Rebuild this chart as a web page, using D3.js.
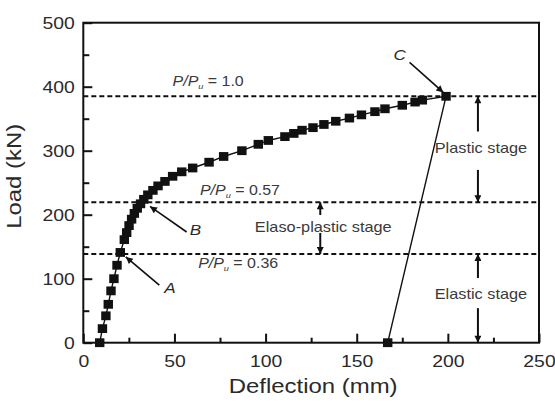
<!DOCTYPE html>
<meta charset="utf-8">
<head>
<style>
body {
  margin: 0;
  background: #fff;
  font-family: "Liberation Sans", Arial, sans-serif;
}
.tick line {
  stroke: #111;
  stroke-width: 2px;
}
.tick text {
  fill: #2a2a2a;
  font-size: 17px;
}
.frame {
  fill: none;
  stroke: #111;
  stroke-width: 2px;
}
.level {
  stroke: #111;
  stroke-width: 2px;
  stroke-dasharray: 5,3;
}
.curve {
  fill: none;
  stroke: #111;
  stroke-width: 1.4px;
}
.arrow {
  stroke: #111;
  stroke-width: 1.6px;
}
.stage {
  stroke: #111;
  stroke-width: 2px;
}
</style>
<script src="https://d3js.org/d3.v7.min.js"></script>
</head>
<body>
<div id="chart"></div>
<script>

// loading curve (deflection in mm, load in kN)
var deflection = [9, 10.5, 12.4, 13.7, 15.2, 16.8, 18.5, 20.3, 22.5, 23.8, 25.1, 26.5, 28, 29.6, 31.4,
  33.2, 35.4, 38.2, 41, 44.8, 49, 54, 60, 69, 77, 87, 96, 101.5, 110.6, 115.5, 120, 126, 132,
  138.5, 146, 152.6, 160, 165.5, 175, 182, 186, 199];
var load = [0, 22, 42, 60, 81, 100, 121, 141, 161, 172, 183, 193, 202, 210, 217,
  224, 231, 238, 245, 252, 260, 267, 273, 282, 291, 300, 310, 316, 322, 327, 332, 336, 341,
  346, 351, 356, 361, 365.5, 371, 376, 379, 385];

// unloading line from C
var unloadDefl = [199, 167];
var unloadLoad = [385, 0];

var peakLoad = 385;
var levelRatios = [1.0, 0.57, 0.36];
var levelText = ["1.0", "0.57", "0.36"];

var xTicks = [0, 50, 100, 150, 200, 250];
var xMinor = [25, 75, 125, 175, 225];
var yTicks = [0, 100, 200, 300, 400, 500];
var yMinor = [50, 150, 250, 350, 450];

var stretch = 1.14;

var margin = {top: 22.7, right: 16, bottom: 60.3, left: 83.3},
  width = 555 - margin.left - margin.right,
  height = 403 - margin.top - margin.bottom;

var svg = d3.select("#chart").append("svg")
  .attr("width", 555)
  .attr("height", 403)
  .append("g")
  .attr("transform", "translate(" + margin.left + "," + margin.top + ")");

var x = d3.scaleLinear().domain([0, 250]).range([0, width]);
var y = d3.scaleLinear().domain([0, 500]).range([height, 0]);

var defs = svg.append("defs");
defs.append("marker")
  .attr("id", "head")
  .attr("markerUnits", "userSpaceOnUse")
  .attr("viewBox", "0 0 10 10")
  .attr("refX", 10).attr("refY", 5)
  .attr("markerWidth", 9).attr("markerHeight", 7)
  .attr("orient", "auto")
  .append("path")
  .attr("d", "M0,0L10,5L0,10z")
  .attr("fill", "#111");

////Axes (ticks pointing inward)
var gx = svg.append("g")
  .attr("transform", "translate(0," + height + ")")
  .call(d3.axisBottom(x).tickValues(xTicks).tickSizeInner(-9).tickSizeOuter(0).tickPadding(12));
gx.select(".domain").remove();
gx.selectAll("text").attr("transform", "scale(" + stretch + ",1)");
svg.append("g")
  .attr("transform", "translate(0," + height + ")")
  .call(d3.axisBottom(x).tickValues(xMinor).tickSizeInner(-5).tickSizeOuter(0).tickFormat(""))
  .select(".domain").remove();

var gy = svg.append("g")
  .call(d3.axisLeft(y).tickValues(yTicks).tickSizeInner(-9).tickSizeOuter(0).tickPadding(7.5));
gy.select(".domain").remove();
gy.selectAll("text").attr("transform", "scale(" + stretch + ",1)");
svg.append("g")
  .call(d3.axisLeft(y).tickValues(yMinor).tickSizeInner(-6).tickSizeOuter(0).tickFormat(""))
  .select(".domain").remove();

svg.append("rect")
  .attr("class", "frame")
  .attr("width", width)
  .attr("height", height);

function label(px, py, str, size, anchor, rot) {
  return svg.append("text")
    .attr("transform", "translate(" + px + "," + py + ")" + (rot ? " rotate(" + rot + ")" : "") + " scale(" + stretch + ",1)")
    .attr("text-anchor", anchor)
    .attr("font-size", size)
    .attr("fill", "#2a2a2a")
    .text(str);
}

label(x(125) + 2, height + 50, "Deflection (mm)", 21, "middle");
label(-62, y(260), "Load (kN)", 21, "middle", -90);

////Load levels
svg.selectAll("levels")
  .data(levelRatios)
  .enter()
  .append("line")
    .attr("class", "level")
    .attr("x1", 0)
    .attr("x2", width)
    .attr("y1", function(d) { return y(d * peakLoad); })
    .attr("y2", function(d) { return y(d * peakLoad); });

var levelPos = [[49, 10], [64, 7], [63, -14]];
levelRatios.forEach(function(d, i) {
  var t = svg.append("text")
    .attr("transform", "translate(" + x(levelPos[i][0]) + "," + (y(d * peakLoad) - levelPos[i][1]) + ") scale(" + stretch + ",1)")
    .attr("font-size", 14)
    .attr("fill", "#3a3a3a");
  t.append("tspan").attr("font-style", "italic").text("P/P");
  t.append("tspan").attr("font-style", "italic").attr("font-size", 8).attr("dy", 3).text("u");
  t.append("tspan").attr("dy", -3).text(" = " + levelText[i]);
});

////Curve
var pts = deflection.map(function(d, i) { return {x: d, y: load[i]}; });
var line = d3.line()
  .x(function(d) { return x(d.x); })
  .y(function(d) { return y(d.y); });

svg.append("path")
  .attr("class", "curve")
  .attr("d", line(unloadDefl.map(function(d, i) { return {x: d, y: unloadLoad[i]}; })));
svg.append("path")
  .attr("class", "curve")
  .attr("d", line(pts));

svg.selectAll("squares")
  .data(pts.concat([{x: unloadDefl[1], y: unloadLoad[1]}]))
  .enter()
  .append("rect")
    .attr("x", function(d) { return x(d.x) - 4.7; })
    .attr("y", function(d) { return y(d.y) - 4.4; })
    .attr("width", 9.4)
    .attr("height", 8.8)
    .attr("fill", "#111");

////Point annotations
var notes = [
  {name: "A", from: [41.7, 90], to: [23.3, 134], tx: 47.5, ty: 78},
  {name: "B", from: [56.7, 173], to: [36.6, 213], tx: 61.5, ty: 168},
  {name: "C", from: [179, 438], to: [197.5, 391], tx: 173.5, ty: 442}
];
notes.forEach(function(n) {
  svg.append("line")
    .attr("class", "arrow")
    .attr("x1", x(n.from[0])).attr("y1", y(n.from[1]))
    .attr("x2", x(n.to[0])).attr("y2", y(n.to[1]))
    .attr("marker-end", "url(#head)");
  label(x(n.tx), y(n.ty), n.name, 15, "middle").attr("font-style", "italic");
});

////Stage arrows
var stages = [
  {name: "Plastic stage", at: 216.5, top: 385, bottom: 219.5, up: 330, down: 270, ty: 297},
  {name: "Elaso-plastic stage", at: 130, top: 219.5, bottom: 138.6, up: 199.5, down: 171.5, ty: 173.5},
  {name: "Elastic stage", at: 216.5, top: 138.6, bottom: 0, up: 101, down: 54, ty: 69}
];
stages.forEach(function(s) {
  svg.append("line")
    .attr("class", "stage")
    .attr("x1", x(s.at)).attr("y1", y(s.up))
    .attr("x2", x(s.at)).attr("y2", y(s.top))
    .attr("marker-end", "url(#head)");
  svg.append("line")
    .attr("class", "stage")
    .attr("x1", x(s.at)).attr("y1", y(s.down))
    .attr("x2", x(s.at)).attr("y2", y(s.bottom))
    .attr("marker-end", "url(#head)");
  label(x(s.at) + 3, y(s.ty), s.name, 14.3, "middle").attr("fill", "#3a3a3a");
});

</script>
</body>
</html>
